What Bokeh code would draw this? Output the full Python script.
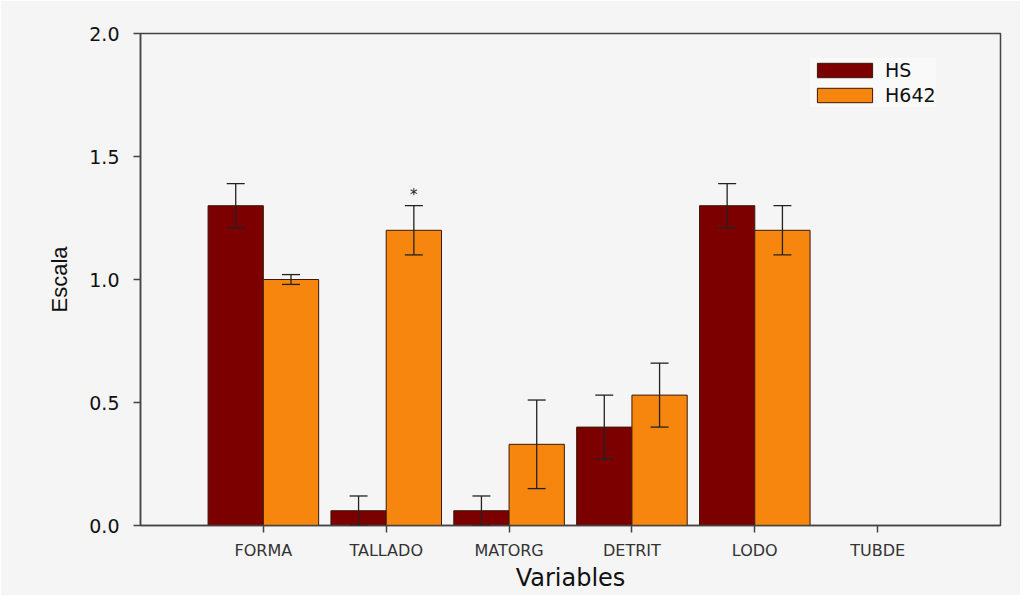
from bokeh.plotting import figure
from bokeh.models import ColumnDataSource, Range1d, FixedTicker, Whisker, TeeHead, Legend, LegendItem
from bokeh.embed import file_html
from bokeh.resources import INLINE
from bokeh.core.properties import value

categories = ["FORMA", "TALLADO", "MATORG", "DETRIT", "LODO", "TUBDE"]
hs_values = [1.30, 0.06, 0.06, 0.40, 1.30, 0.0]
hs_errors = [0.09, 0.06, 0.06, 0.13, 0.09, 0.0]
h642_values = [1.00, 1.20, 0.33, 0.53, 1.20, 0.0]
h642_errors = [0.02, 0.10, 0.18, 0.13, 0.10, 0.0]
significant = ["", "*", "", "", "", ""]
y_ticks = [0.0, 0.5, 1.0, 1.5, 2.0]

HS_COLOR = "#7c0000"
H642_COLOR = "#f7860e"
BG = "#f5f5f5"
FONT = "DejaVu Sans"

xs = list(range(1, len(categories) + 1))
bw = 0.45

src_hs = ColumnDataSource(dict(x=[x - bw / 2 for x in xs], top=hs_values))
src_h642 = ColumnDataSource(dict(x=[x + bw / 2 for x in xs], top=h642_values))

p = figure(width=1020, height=595, output_backend="svg", toolbar_location=None,
           x_range=Range1d(0, 7), y_range=Range1d(0, 2.0),
           min_border_left=140, min_border_right=20, min_border_top=33, min_border_bottom=70)
p.background_fill_color = BG
p.border_fill_color = BG
p.outline_line_color = "#444444"
p.outline_line_width = 1.5
p.grid.visible = False

r1 = p.vbar(x="x", top="top", width=bw, bottom=0, source=src_hs,
            fill_color=HS_COLOR, line_color="#3a1a0a", line_width=1)
r2 = p.vbar(x="x", top="top", width=bw, bottom=0, source=src_h642,
            fill_color=H642_COLOR, line_color="#3a1a0a", line_width=1)

hs_idx = [i for i, e in enumerate(hs_errors) if e > 0]
h_idx = [i for i, e in enumerate(h642_errors) if e > 0]
wsrc1 = ColumnDataSource(dict(x=[xs[i] - bw / 2 for i in hs_idx],
                              upper=[hs_values[i] + hs_errors[i] for i in hs_idx],
                              lower=[hs_values[i] - hs_errors[i] for i in hs_idx]))
wsrc2 = ColumnDataSource(dict(x=[xs[i] + bw / 2 for i in h_idx],
                              upper=[h642_values[i] + h642_errors[i] for i in h_idx],
                              lower=[h642_values[i] - h642_errors[i] for i in h_idx]))
for ws in (wsrc1, wsrc2):
    w = Whisker(base="x", upper="upper", lower="lower", source=ws, level="overlay",
                line_color="#222222", line_width=1.3,
                upper_head=TeeHead(size=18, line_color="#222222", line_width=1.3),
                lower_head=TeeHead(size=18, line_color="#222222", line_width=1.3))
    p.add_layout(w)

sig_idx = [i for i, s in enumerate(significant) if s]
p.text(x=[xs[i] + bw / 2 for i in sig_idx],
       y=[h642_values[i] + h642_errors[i] + 0.008 for i in sig_idx],
       text=[significant[i] for i in sig_idx],
       text_align="center", text_baseline="bottom", text_font_size="15px",
       text_color="#222222", text_font=value(FONT))

p.xaxis.ticker = FixedTicker(ticks=xs)
p.xaxis.major_label_overrides = {x: c for x, c in zip(xs, categories)}
p.yaxis.ticker = FixedTicker(ticks=y_ticks)
p.yaxis.major_label_overrides = {t: f"{t:.1f}" for t in y_ticks}

for ax in (p.xaxis, p.yaxis):
    ax.axis_line_color = "#444444"
    ax.axis_line_width = 1.5
    ax.major_tick_line_color = "#444444"
    ax.major_tick_line_width = 1.5
    ax.major_tick_in = 0
    ax.major_tick_out = 7
    ax.minor_tick_line_color = None
    ax.major_label_text_font = FONT
    ax.axis_label_text_font = FONT
    ax.axis_label_text_font_style = "normal"
    ax.axis_label_text_color = "#111111"

p.xaxis.major_label_text_font_size = "16px"
p.xaxis.major_label_text_color = "#333333"
p.xaxis.major_label_standoff = 8
p.xaxis.axis_label = "Variables"
p.xaxis.axis_label_text_font_size = "24px"
p.xaxis.axis_label_standoff = 1

p.yaxis.major_label_text_font_size = "19px"
p.yaxis.major_label_text_color = "#111111"
p.yaxis.major_label_standoff = 14
p.yaxis.axis_label = "Escala"
p.yaxis.axis_label_text_font = "Liberation Sans"
p.yaxis.axis_label_text_font_size = "22px"
p.yaxis.axis_label_standoff = 14

legend = Legend(items=[LegendItem(label="HS", renderers=[r1]),
                       LegendItem(label="H642", renderers=[r2])],
                location=(670, 418))
legend.glyph_width = 69
legend.glyph_height = 18
legend.label_height = 24
legend.spacing = 1
legend.padding = 6
legend.margin = 0
legend.label_standoff = 6
legend.label_text_font = FONT
legend.label_text_font_size = "19px"
legend.label_text_color = "#111111"
legend.background_fill_color = "#f9f9f9"
legend.border_line_color = None
p.add_layout(legend)

open("out.html", "w").write(file_html(p, INLINE))
